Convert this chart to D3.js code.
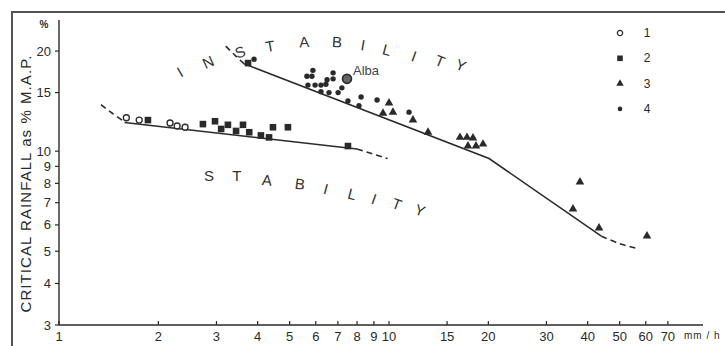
<!DOCTYPE html>
<html>
<head>
<meta charset="utf-8">
<script src="https://cdn.jsdelivr.net/npm/d3@7"></script>
<style>
  body { margin: 0; background: #fff; }
  svg { display: block; font-family: "Liberation Sans", Arial, sans-serif; }
</style>
</head>
<body>
<div id="chart"></div>
<script>
  const W = 725, H = 346;
  const ink = "#2a2a2a";

  // tick labels
  const xTicks = [1, 2, 3, 4, 5, 6, 7, 8, 9, 10, 15, 20, 30, 40, 50, 60, 70];
  const yTicks = [3, 4, 5, 6, 7, 8, 9, 10, 15, 20];

  // threshold lines (intensity mm/h, critical rainfall % MAP)
  const lowDashStart = [[1.34, 13.8], [1.45, 13.0], [1.58, 12.25]];
  const lowSolid = [[1.58, 12.2], [8.0, 10.15]];
  const lowDashEnd = [[8.0, 10.15], [9.9, 9.5]];
  const upDashStart = [[3.2, 20.7], [3.4, 19.5], [3.64, 18.3]];
  const upSolid = [[3.64, 18.3], [20.1, 9.5], [44, 5.55]];
  const upDashEnd = [[44, 5.55], [50, 5.27], [56.4, 5.1]];

  // observed events, groups 1-4
  const group1 = [[1.6, 12.6], [1.75, 12.4], [2.17, 12.15], [2.28, 11.9], [2.41, 11.8]];
  const group2 = [[1.86, 12.4], [2.73, 12.06], [2.97, 12.3], [3.1, 11.66], [3.25, 12.0],
    [3.44, 11.5], [3.61, 12.0], [3.77, 11.4], [4.09, 11.15], [4.33, 11.0],
    [4.45, 11.8], [4.94, 11.8], [7.51, 10.36], [3.74, 18.4]];
  const group3 = [[10.0, 13.96], [9.59, 13.0], [10.28, 13.1], [11.82, 12.4], [13.13, 11.4],
    [16.41, 11.0], [17.23, 11.0], [17.97, 10.95], [17.35, 10.36], [18.35, 10.36],
    [19.27, 10.5], [37.9, 8.08], [36.1, 6.7], [43.3, 5.87], [60.5, 5.56]];
  const group4 = [[3.9, 18.9], [5.88, 17.5], [5.64, 16.8], [5.84, 16.8], [6.77, 17.2],
    [6.77, 16.5], [6.49, 16.4], [6.44, 15.9], [5.68, 15.8], [5.97, 15.8],
    [6.22, 15.8], [6.22, 15.1], [6.58, 15.0], [7.01, 15.0], [7.2, 15.5],
    [7.51, 14.15], [8.23, 14.55], [8.11, 13.7], [9.2, 14.25], [11.5, 13.1]];
  const alba = [7.46, 16.5];

  // region labels: letter, x value, y value, tilt
  const instability = [["I", 2.325, 17.3, -30], ["N", 2.83, 18.54, -25], ["S", 3.54, 19.86, -20],
    ["T", 4.36, 20.7, -10], ["A", 5.53, 21.3, -3], ["B", 6.96, 21.3, 3], ["I", 8.34, 20.85, 10],
    ["L", 9.86, 20.15, 15], ["I", 11.9, 19.3, 20], ["T", 14.27, 18.67, 22], ["Y", 16.53, 18.15, 22]];
  const stability = [["S", 2.85, 8.42, 0], ["T", 3.46, 8.42, 0], ["A", 4.27, 8.19, 5],
    ["B", 5.37, 7.97, 8], ["I", 6.44, 7.7, 15], ["L", 7.73, 7.43, 15], ["I", 9.01, 7.18, 20],
    ["T", 10.57, 6.93, 20], ["Y", 12.41, 6.65, 20]];

  const legendKeys = ["1", "2", "3", "4"];

  const svg = d3.select("#chart").append("svg").attr("width", W).attr("height", H);

  // frame
  svg.append("path").attr("d", `M12,${H} V12 H${W}`)
    .attr("fill", "none").attr("stroke", "#555").attr("stroke-width", 2);

  const x = d3.scaleLog().domain([1, 100]).range([59, 719]);
  const y = d3.scaleLog().domain([3, 30]).range([325, -7.5]);

  // axes
  svg.append("line").attr("x1", x(1)).attr("x2", 703).attr("y1", y(3)).attr("y2", y(3))
    .attr("stroke", ink).attr("stroke-width", 1.4);
  svg.append("line").attr("x1", x(1)).attr("x2", x(1)).attr("y1", y(3)).attr("y2", 20)
    .attr("stroke", ink).attr("stroke-width", 1.4);

  const xg = svg.append("g");
  xg.selectAll("line").data(xTicks).join("line")
    .attr("x1", d => x(d)).attr("x2", d => x(d))
    .attr("y1", y(3)).attr("y2", y(3) - 4)
    .attr("stroke", ink).attr("stroke-width", 1.2);
  xg.selectAll("text").data(xTicks).join("text")
    .attr("x", d => x(d)).attr("y", 341)
    .attr("text-anchor", "middle").attr("font-size", 13).attr("fill", ink)
    .text(d => d);
  svg.append("text").attr("x", 684).attr("y", 339).attr("font-size", 10)
    .attr("fill", ink).attr("letter-spacing", 1).text("mm / h");

  const yg = svg.append("g");
  yg.selectAll("line").data(yTicks).join("line")
    .attr("x1", x(1) - 4).attr("x2", x(1))
    .attr("y1", d => y(d)).attr("y2", d => y(d))
    .attr("stroke", ink).attr("stroke-width", 1.2);
  yg.selectAll("text").data(yTicks).join("text")
    .attr("x", 51).attr("y", d => y(d) + 4.5)
    .attr("text-anchor", "end").attr("font-size", 13).attr("fill", ink)
    .text(d => d);
  svg.append("text").attr("x", 44).attr("y", 28).attr("text-anchor", "middle")
    .attr("font-size", 10).attr("font-weight", "bold").attr("fill", ink).text("%");

  svg.append("text")
    .attr("transform", "translate(31,184) rotate(-90)")
    .attr("text-anchor", "middle").attr("font-size", 15).attr("fill", ink)
    .attr("textLength", 257).attr("lengthAdjust", "spacing")
    .text("CRITICAL RAINFALL as % M.A.P.");

  // lines
  const line = d3.line().x(d => x(d[0])).y(d => y(d[1])).curve(d3.curveCatmullRom);
  [lowSolid, upSolid].forEach(p => {
    svg.append("path").attr("d", d3.line().x(d => x(d[0])).y(d => y(d[1]))(p))
      .attr("fill", "none").attr("stroke", ink).attr("stroke-width", 1.6);
  });
  [lowDashStart, lowDashEnd, upDashStart, upDashEnd].forEach(p => {
    svg.append("path").attr("d", line(p))
      .attr("fill", "none").attr("stroke", ink).attr("stroke-width", 1.6)
      .attr("stroke-dasharray", "6,4");
  });

  // markers
  const marks = svg.append("g");
  marks.selectAll(".g1").data(group1).join("circle").attr("class", "g1")
    .attr("cx", d => x(d[0])).attr("cy", d => y(d[1])).attr("r", 3)
    .attr("fill", "#fff").attr("stroke", ink).attr("stroke-width", 1.3);
  marks.selectAll(".g2").data(group2).join("rect").attr("class", "g2")
    .attr("x", d => x(d[0]) - 3.3).attr("y", d => y(d[1]) - 3.3)
    .attr("width", 6.6).attr("height", 6.6).attr("fill", ink);
  const tri = d3.symbol().type(d3.symbolTriangle).size(32);
  marks.selectAll(".g3").data(group3).join("path").attr("class", "g3")
    .attr("d", tri).attr("transform", d => `translate(${x(d[0])},${y(d[1])})`)
    .attr("fill", ink);
  marks.selectAll(".g4").data(group4).join("circle").attr("class", "g4")
    .attr("cx", d => x(d[0])).attr("cy", d => y(d[1])).attr("r", 2.7)
    .attr("fill", ink);
  marks.append("circle").attr("cx", x(alba[0])).attr("cy", y(alba[1])).attr("r", 4.5)
    .attr("fill", "#666").attr("stroke", ink).attr("stroke-width", 1.6);
  svg.append("text").attr("x", x(alba[0]) + 6).attr("y", y(alba[1]) - 4)
    .attr("font-size", 13).attr("fill", "#444").text("Alba");

  // region labels
  const region = (arr) => svg.append("g").selectAll("text").data(arr).join("text")
    .attr("transform", d => `translate(${x(d[1])},${y(d[2])}) rotate(${d[3]})`)
    .attr("text-anchor", "middle").attr("dy", "0.36em")
    .attr("font-size", 15).attr("fill", "#333").text(d => d[0]);
  region(instability);
  region(stability);

  // legend
  const lg = svg.append("g").attr("transform", "translate(620,33)");
  const row = lg.selectAll("g").data(legendKeys).join("g")
    .attr("transform", (d, i) => `translate(0,${i * 25.3})`);
  row.each(function (d, i) {
    const g = d3.select(this);
    if (i === 0) g.append("circle").attr("r", 2.6).attr("fill", "#fff").attr("stroke", ink).attr("stroke-width", 1.3);
    if (i === 1) g.append("rect").attr("x", -2.8).attr("y", -2.8).attr("width", 5.6).attr("height", 5.6).attr("fill", ink);
    if (i === 2) g.append("path").attr("d", d3.symbol().type(d3.symbolTriangle).size(24)).attr("fill", ink);
    if (i === 3) g.append("circle").attr("r", 2.3).attr("fill", ink);
  });
  row.append("text").attr("x", 27).attr("y", 4).attr("text-anchor", "middle")
    .attr("font-size", 12).attr("fill", ink).text(d => d);
</script>
</body>
</html>
